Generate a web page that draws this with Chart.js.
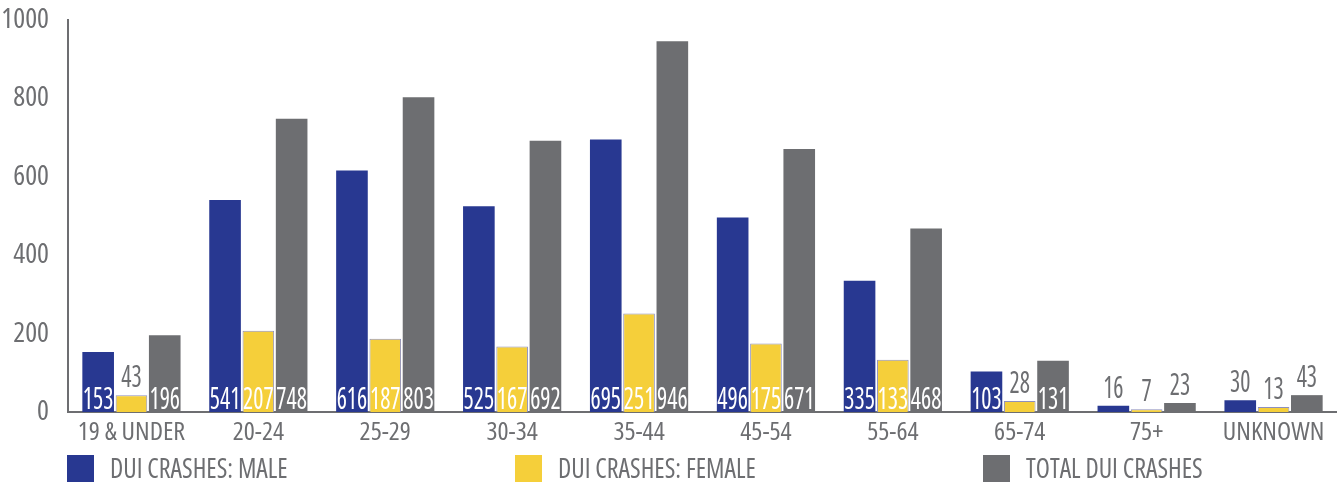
<!DOCTYPE html>
<html>
<head>
<meta charset="utf-8">
<script src="https://cdn.jsdelivr.net/npm/chart.js@4.4.1/dist/chart.umd.min.js"></script>
<style>
  html, body { margin: 0; padding: 0; background: #ffffff; }
  #wrap { width: 1337px; height: 485px; position: relative; }
</style>
</head>
<body>
<div id="wrap"><canvas id="chart" width="1337" height="485"></canvas></div>
<script>
// ---- data ----
const categories = ['19 & UNDER', '20-24', '25-29', '30-34', '35-44', '45-54', '55-64', '65-74', '75+', 'UNKNOWN'];
const maleCrashes = [153, 541, 616, 525, 695, 496, 335, 103, 16, 30];
const femaleCrashes = [43, 207, 187, 167, 251, 175, 133, 28, 7, 13];
const totalCrashes = [196, 748, 803, 692, 946, 671, 468, 131, 23, 43];
const yTickValues = [0, 200, 400, 600, 800, 1000];
const seriesNames = ['DUI CRASHES: MALE', 'DUI CRASHES: FEMALE', 'TOTAL DUI CRASHES'];

// ---- style ----
const BLUE = '#283891';
const YELLOW = '#f5cf3a';
const GRAY = '#6d6e71';
const TEXT = '#6d6e71';
const FAMILY = "'Open Sans', 'Roboto Condensed', sans-serif";
const COND = 'normal condensed';

function condFont(size, weight) { return (weight || COND) + ' ' + size + 'px ' + FAMILY; }

function drawCondText(ctx, text, x, y, size, align, sx, weight) {
  ctx.save();
  ctx.font = condFont(size, weight);
  ctx.textBaseline = 'alphabetic';
  const w = ctx.measureText(text).width * sx;
  let left = x;
  if (align === 'center') left = x - w / 2;
  else if (align === 'right') left = x - w;
  ctx.translate(left, y);
  ctx.scale(sx, 1);
  ctx.textAlign = 'left';
  ctx.fillText(text, 0, 0);
  ctx.restore();
}

const barLabelPlugin = {
  id: 'barLabels',
  afterDatasetsDraw(chart) {
    const ctx = chart.ctx;
    chart.data.datasets.forEach((ds, i) => {
      const meta = chart.getDatasetMeta(i);
      meta.data.forEach((bar, j) => {
        const v = ds.data[j];
        const h = bar.base - bar.y;
        if (h >= 26) {
          ctx.fillStyle = '#ffffff';
          drawCondText(ctx, String(v), bar.x, bar.base - 3, 30, 'center', 0.8, '500 condensed');
        } else {
          ctx.fillStyle = TEXT;
          drawCondText(ctx, String(v), bar.x, bar.y - 8, 30, 'center', 0.8);
        }
      });
    });
  }
};

const legendPlugin = {
  id: 'customLegend',
  afterDraw(chart) {
    const ctx = chart.ctx;
    const xs = [67, 515, 983];
    const top = 455, box = 27;
    chart.data.datasets.forEach((ds, i) => {
      const x = xs[i];
      ctx.save();
      ctx.fillStyle = ds.backgroundColor;
      ctx.fillRect(x, top, box, box);
      ctx.restore();
      ctx.fillStyle = TEXT;
      drawCondText(ctx, ds.label, x + 43, top + 23, 27, 'left', 0.96);
    });
  }
};

const ctx = document.getElementById('chart').getContext('2d');
new Chart(ctx, {
  type: 'bar',
  data: {
    labels: categories,
    datasets: [
      { label: seriesNames[0], data: maleCrashes, backgroundColor: BLUE, borderWidth: 0 },
      { label: seriesNames[1], data: femaleCrashes, backgroundColor: YELLOW, borderColor: '#8e90bd', borderWidth: 1 },
      { label: seriesNames[2], data: totalCrashes, backgroundColor: GRAY, borderWidth: 0 }
    ]
  },
  options: {
    responsive: false,
    animation: false,
    devicePixelRatio: 1,
    categoryPercentage: 0.787,
    barPercentage: 0.95,
    layout: { padding: { top: 20, right: 0, bottom: 37, left: 0 } },
    plugins: {
      legend: { display: false },
      tooltip: { enabled: false },
      title: { display: false }
    },
    scales: {
      x: {
        grid: { display: false, drawTicks: false },
        border: { display: true, color: GRAY, width: 2 },
        ticks: {
          color: TEXT,
          font: { family: FAMILY, size: 26, weight: COND },
          padding: 5,
          maxRotation: 0,
          autoSkip: false
        },
        afterFit(scale) { scale.height = 36; scale.paddingLeft = 0; scale.paddingRight = 0; }
      },
      y: {
        min: 0,
        max: 1000,
        afterBuildTicks(scale) { scale.ticks = yTickValues.map(v => ({ value: v })); },
        grid: { display: false, drawTicks: false },
        border: { display: true, color: GRAY, width: 2 },
        ticks: {
          color: TEXT,
          font: { family: FAMILY, size: 28, weight: COND },
          padding: 19,
          callback: (v) => String(v)
        },
        afterFit(scale) { scale.width = 68; scale.paddingTop = 0; scale.paddingBottom = 0; }
      }
    }
  },
  plugins: [barLabelPlugin, legendPlugin]
});
</script>
</body>
</html>
